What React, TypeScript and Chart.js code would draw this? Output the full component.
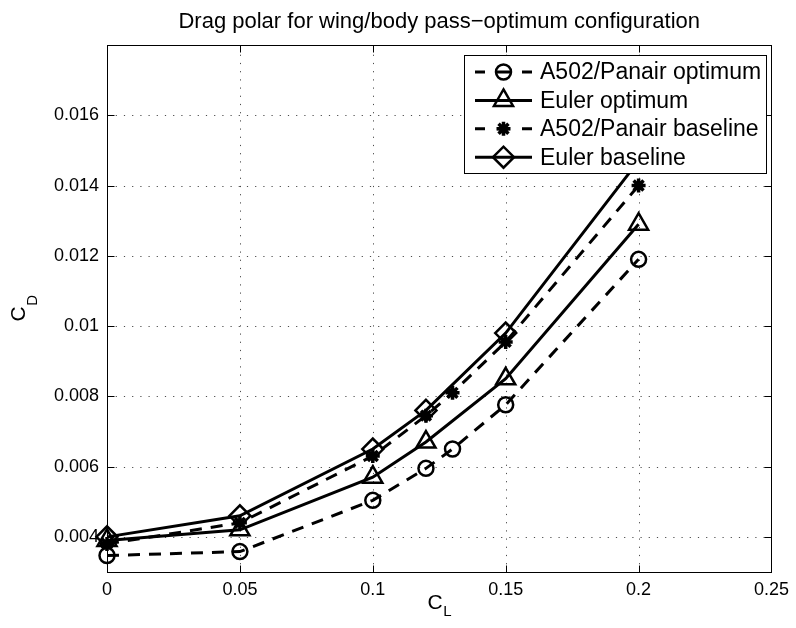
import React, { useEffect, useRef } from 'react';
import { Chart, registerables } from 'chart.js';

Chart.register(...registerables);

// ---------- data ----------
const titleText = 'Drag polar for wing/body pass\u2212optimum configuration';
const xAxisLabel = 'C';
const xAxisSub = 'L';
const yAxisLabel = 'C';
const yAxisSub = 'D';

const xTicks = [0, 0.05, 0.1, 0.15, 0.2, 0.25];
const yTicks = [0.004, 0.006, 0.008, 0.01, 0.012, 0.014, 0.016];

const clA502 = [0, 0.05, 0.1, 0.12, 0.13, 0.15, 0.2];
const clEuler = [0, 0.05, 0.1, 0.12, 0.15, 0.2];

const a502Optimum = [0.00347, 0.00358, 0.00504, 0.00595, 0.0065, 0.00776, 0.0119];
const eulerOptimum = [0.0039, 0.0042, 0.0057, 0.0067, 0.0085, 0.0129];
const a502Baseline = [0.0038, 0.0044, 0.0063, 0.00745, 0.0081, 0.00955, 0.014];
const eulerBaseline = [0.004, 0.0046, 0.0065, 0.0076, 0.0098, 0.0147];

const seriesNames = [
  'A502/Panair optimum',
  'Euler optimum',
  'A502/Panair baseline',
  'Euler baseline',
];

// ---------- styling ----------
const FONT = '"Liberation Sans", Arial, Helvetica, sans-serif';
const DASH = [12, 9];
const markerStyles = ['circle', 'triangle', 'star', 'rectRot'];
const markerRadii = [7.5, 11, 7, 10.5];
const dashed = [true, false, true, false];

function drawMarker(ctx: CanvasRenderingContext2D, style: string, x: number, y: number, r: number) {
  ctx.beginPath();
  if (style === 'circle') {
    ctx.arc(x, y, r, 0, Math.PI * 2);
    ctx.closePath();
  } else if (style === 'triangle') {
    let rad = 0;
    ctx.moveTo(x + Math.sin(rad) * r, y - Math.cos(rad) * r);
    rad += (2 * Math.PI) / 3;
    ctx.lineTo(x + Math.sin(rad) * r, y - Math.cos(rad) * r);
    rad += (2 * Math.PI) / 3;
    ctx.lineTo(x + Math.sin(rad) * r, y - Math.cos(rad) * r);
    ctx.closePath();
  } else if (style === 'rectRot') {
    ctx.moveTo(x - r, y);
    ctx.lineTo(x, y - r);
    ctx.lineTo(x + r, y);
    ctx.lineTo(x, y + r);
    ctx.closePath();
  } else if (style === 'star') {
    for (let k = 0; k < 4; k++) {
      const a = (k * Math.PI) / 4;
      ctx.moveTo(x - Math.cos(a) * r, y - Math.sin(a) * r);
      ctx.lineTo(x + Math.cos(a) * r, y + Math.sin(a) * r);
    }
  }
  ctx.stroke();
}

const decorPlugin = {
  id: 'decor',
  beforeDraw(chart: any) {
    const ctx = chart.ctx as CanvasRenderingContext2D;
    ctx.save();
    ctx.fillStyle = '#fff';
    ctx.fillRect(0, 0, chart.width, chart.height);
    ctx.restore();
  },
  beforeDatasetsDraw(chart: any) {
    const ctx = chart.ctx as CanvasRenderingContext2D;
    const a = chart.chartArea;
    const xs = chart.scales.x;
    const ys = chart.scales.y;
    const L = Math.round(a.left) + 0.5;
    const R = Math.round(a.right) + 0.5;
    const T = Math.round(a.top) + 0.5;
    const B = Math.round(a.bottom) + 0.5;
    ctx.save();
    // dotted grid
    ctx.lineWidth = 1;
    ctx.strokeStyle = 'rgba(0,0,0,0.7)';
    ctx.setLineDash([1.2, 7]);
    xTicks.forEach((v) => {
      const px = Math.round(xs.getPixelForValue(v)) + 0.5;
      ctx.beginPath();
      ctx.moveTo(px, B);
      ctx.lineTo(px, T);
      ctx.stroke();
    });
    yTicks.forEach((v) => {
      const py = Math.round(ys.getPixelForValue(v)) + 0.5;
      ctx.beginPath();
      ctx.moveTo(L, py);
      ctx.lineTo(R, py);
      ctx.stroke();
    });
    ctx.setLineDash([]);
    ctx.strokeStyle = '#000';
    // inward ticks
    const tl = 7;
    xTicks.forEach((v) => {
      const px = Math.round(xs.getPixelForValue(v)) + 0.5;
      ctx.beginPath();
      ctx.moveTo(px, B);
      ctx.lineTo(px, B - tl);
      ctx.moveTo(px, T);
      ctx.lineTo(px, T + tl);
      ctx.stroke();
    });
    yTicks.forEach((v) => {
      const py = Math.round(ys.getPixelForValue(v)) + 0.5;
      ctx.beginPath();
      ctx.moveTo(L, py);
      ctx.lineTo(L + tl, py);
      ctx.moveTo(R, py);
      ctx.lineTo(R - tl, py);
      ctx.stroke();
    });
    // box
    ctx.strokeRect(L, T, R - L, B - T);
    ctx.restore();
  },
  afterDraw(chart: any) {
    const ctx = chart.ctx as CanvasRenderingContext2D;
    const a = chart.chartArea;
    const cx = (a.left + a.right) / 2;
    const cy = (a.top + a.bottom) / 2;
    ctx.save();
    ctx.fillStyle = '#000';
    // title
    ctx.font = `22px ${FONT}`;
    ctx.textAlign = 'center';
    ctx.textBaseline = 'alphabetic';
    ctx.fillText(titleText, cx, 28);

    // x label
    ctx.textAlign = 'left';
    ctx.font = `21px ${FONT}`;
    const cW = ctx.measureText(xAxisLabel).width;
    ctx.font = `15px ${FONT}`;
    const lW = ctx.measureText(xAxisSub).width;
    const xStart = cx - (cW + lW) / 2;
    ctx.font = `21px ${FONT}`;
    ctx.fillText(xAxisLabel, xStart, 609);
    ctx.font = `15px ${FONT}`;
    ctx.fillText(xAxisSub, xStart + cW + 0.5, 616);

    // y label (rotated)
    ctx.font = `21px ${FONT}`;
    const cW2 = ctx.measureText(yAxisLabel).width;
    ctx.font = `15px ${FONT}`;
    const dW = ctx.measureText(yAxisSub).width;
    ctx.save();
    ctx.translate(25, cy + (cW2 + dW) / 2);
    ctx.rotate(-Math.PI / 2);
    ctx.font = `21px ${FONT}`;
    ctx.fillText(yAxisLabel, 0, 0);
    ctx.font = `15px ${FONT}`;
    ctx.fillText(yAxisSub, cW2 + 0.5, 12);
    ctx.restore();

    // legend
    const bx = 464.5, by = 55.5, bw = 302, bh = 118;
    ctx.fillStyle = '#fff';
    ctx.fillRect(bx, by, bw, bh);
    ctx.lineWidth = 1;
    ctx.strokeStyle = '#000';
    ctx.strokeRect(bx, by, bw, bh);
    const x0 = 475, x1 = 532, mx = 503.5;
    seriesNames.forEach((name, i) => {
      const ry = 72 + i * 28.4;
      ctx.lineWidth = 3;
      ctx.lineCap = 'butt';
      ctx.setLineDash(dashed[i] ? [10, 12, 13, 12, 10] : []);
      ctx.beginPath();
      ctx.moveTo(x0, ry);
      ctx.lineTo(x1, ry);
      ctx.stroke();
      ctx.setLineDash([]);
      ctx.lineWidth = markerStyles[i] === 'star' ? 3.5 : 2.5;
      drawMarker(ctx, markerStyles[i], mx, ry, markerRadii[i]);
      ctx.fillStyle = '#000';
      ctx.font = `23px ${FONT}`;
      ctx.textAlign = 'left';
      ctx.textBaseline = 'middle';
      ctx.fillText(name, 540, ry + 1);
    });
    ctx.restore();
  },
};

function makeDataset(i: number, xs: number[], ys: number[]) {
  return {
    label: seriesNames[i],
    data: xs.map((x, k) => ({ x, y: ys[k] })),
    borderColor: '#000',
    borderWidth: 3,
    borderDash: dashed[i] ? DASH : [],
    borderCapStyle: 'butt' as const,
    pointStyle: markerStyles[i],
    pointRadius: markerRadii[i],
    pointBorderWidth: markerStyles[i] === 'star' ? 3.5 : 2.5,
    pointBorderColor: '#000',
    pointBackgroundColor: 'rgba(0,0,0,0)',
    fill: false,
    tension: 0,
    clip: false as any,
  };
}

const fmt = (v: number) => String(parseFloat(Number(v).toFixed(4)));

export default function App() {
  const ref = useRef<HTMLCanvasElement | null>(null);
  useEffect(() => {
    if (!ref.current) return;
    const chart = new Chart(ref.current, {
      type: 'line',
      data: {
        datasets: [
          makeDataset(0, clA502, a502Optimum),
          makeDataset(1, clEuler, eulerOptimum),
          makeDataset(2, clA502, a502Baseline),
          makeDataset(3, clEuler, eulerBaseline),
        ] as any,
      },
      options: {
        animation: false,
        responsive: false,
        devicePixelRatio: 1,
        events: [],
        layout: { padding: { top: 45, right: 22, left: 0, bottom: 0 } },
        plugins: {
          legend: { display: false },
          title: { display: false },
          tooltip: { enabled: false },
        },
        scales: {
          x: {
            type: 'linear',
            min: 0,
            max: 0.25,
            grid: { display: false, drawTicks: false },
            border: { display: false },
            afterBuildTicks: (s: any) => {
              s.ticks = xTicks.map((v) => ({ value: v }));
            },
            afterFit: (s: any) => {
              s.height = 56;
            },
            ticks: {
              color: '#000',
              font: { family: FONT, size: 18 },
              padding: 7,
              maxRotation: 0,
              autoSkip: false,
              callback: (v: any) => fmt(v),
            },
          },
          y: {
            type: 'linear',
            min: 0.003,
            max: 0.018,
            grid: { display: false, drawTicks: false },
            border: { display: false },
            afterBuildTicks: (s: any) => {
              s.ticks = yTicks.map((v) => ({ value: v }));
            },
            afterFit: (s: any) => {
              s.width = 107;
            },
            ticks: {
              color: '#000',
              font: { family: FONT, size: 18 },
              padding: 8,
              autoSkip: false,
              callback: (v: any) => fmt(v),
            },
          },
        },
      } as any,
      plugins: [decorPlugin],
    });
    return () => chart.destroy();
  }, []);
  return (
    <div style={{ position: 'absolute', left: 0, top: 0, width: 796, height: 628 }}>
      <canvas ref={ref} width={796} height={628} style={{ display: 'block' }} />
    </div>
  );
}
